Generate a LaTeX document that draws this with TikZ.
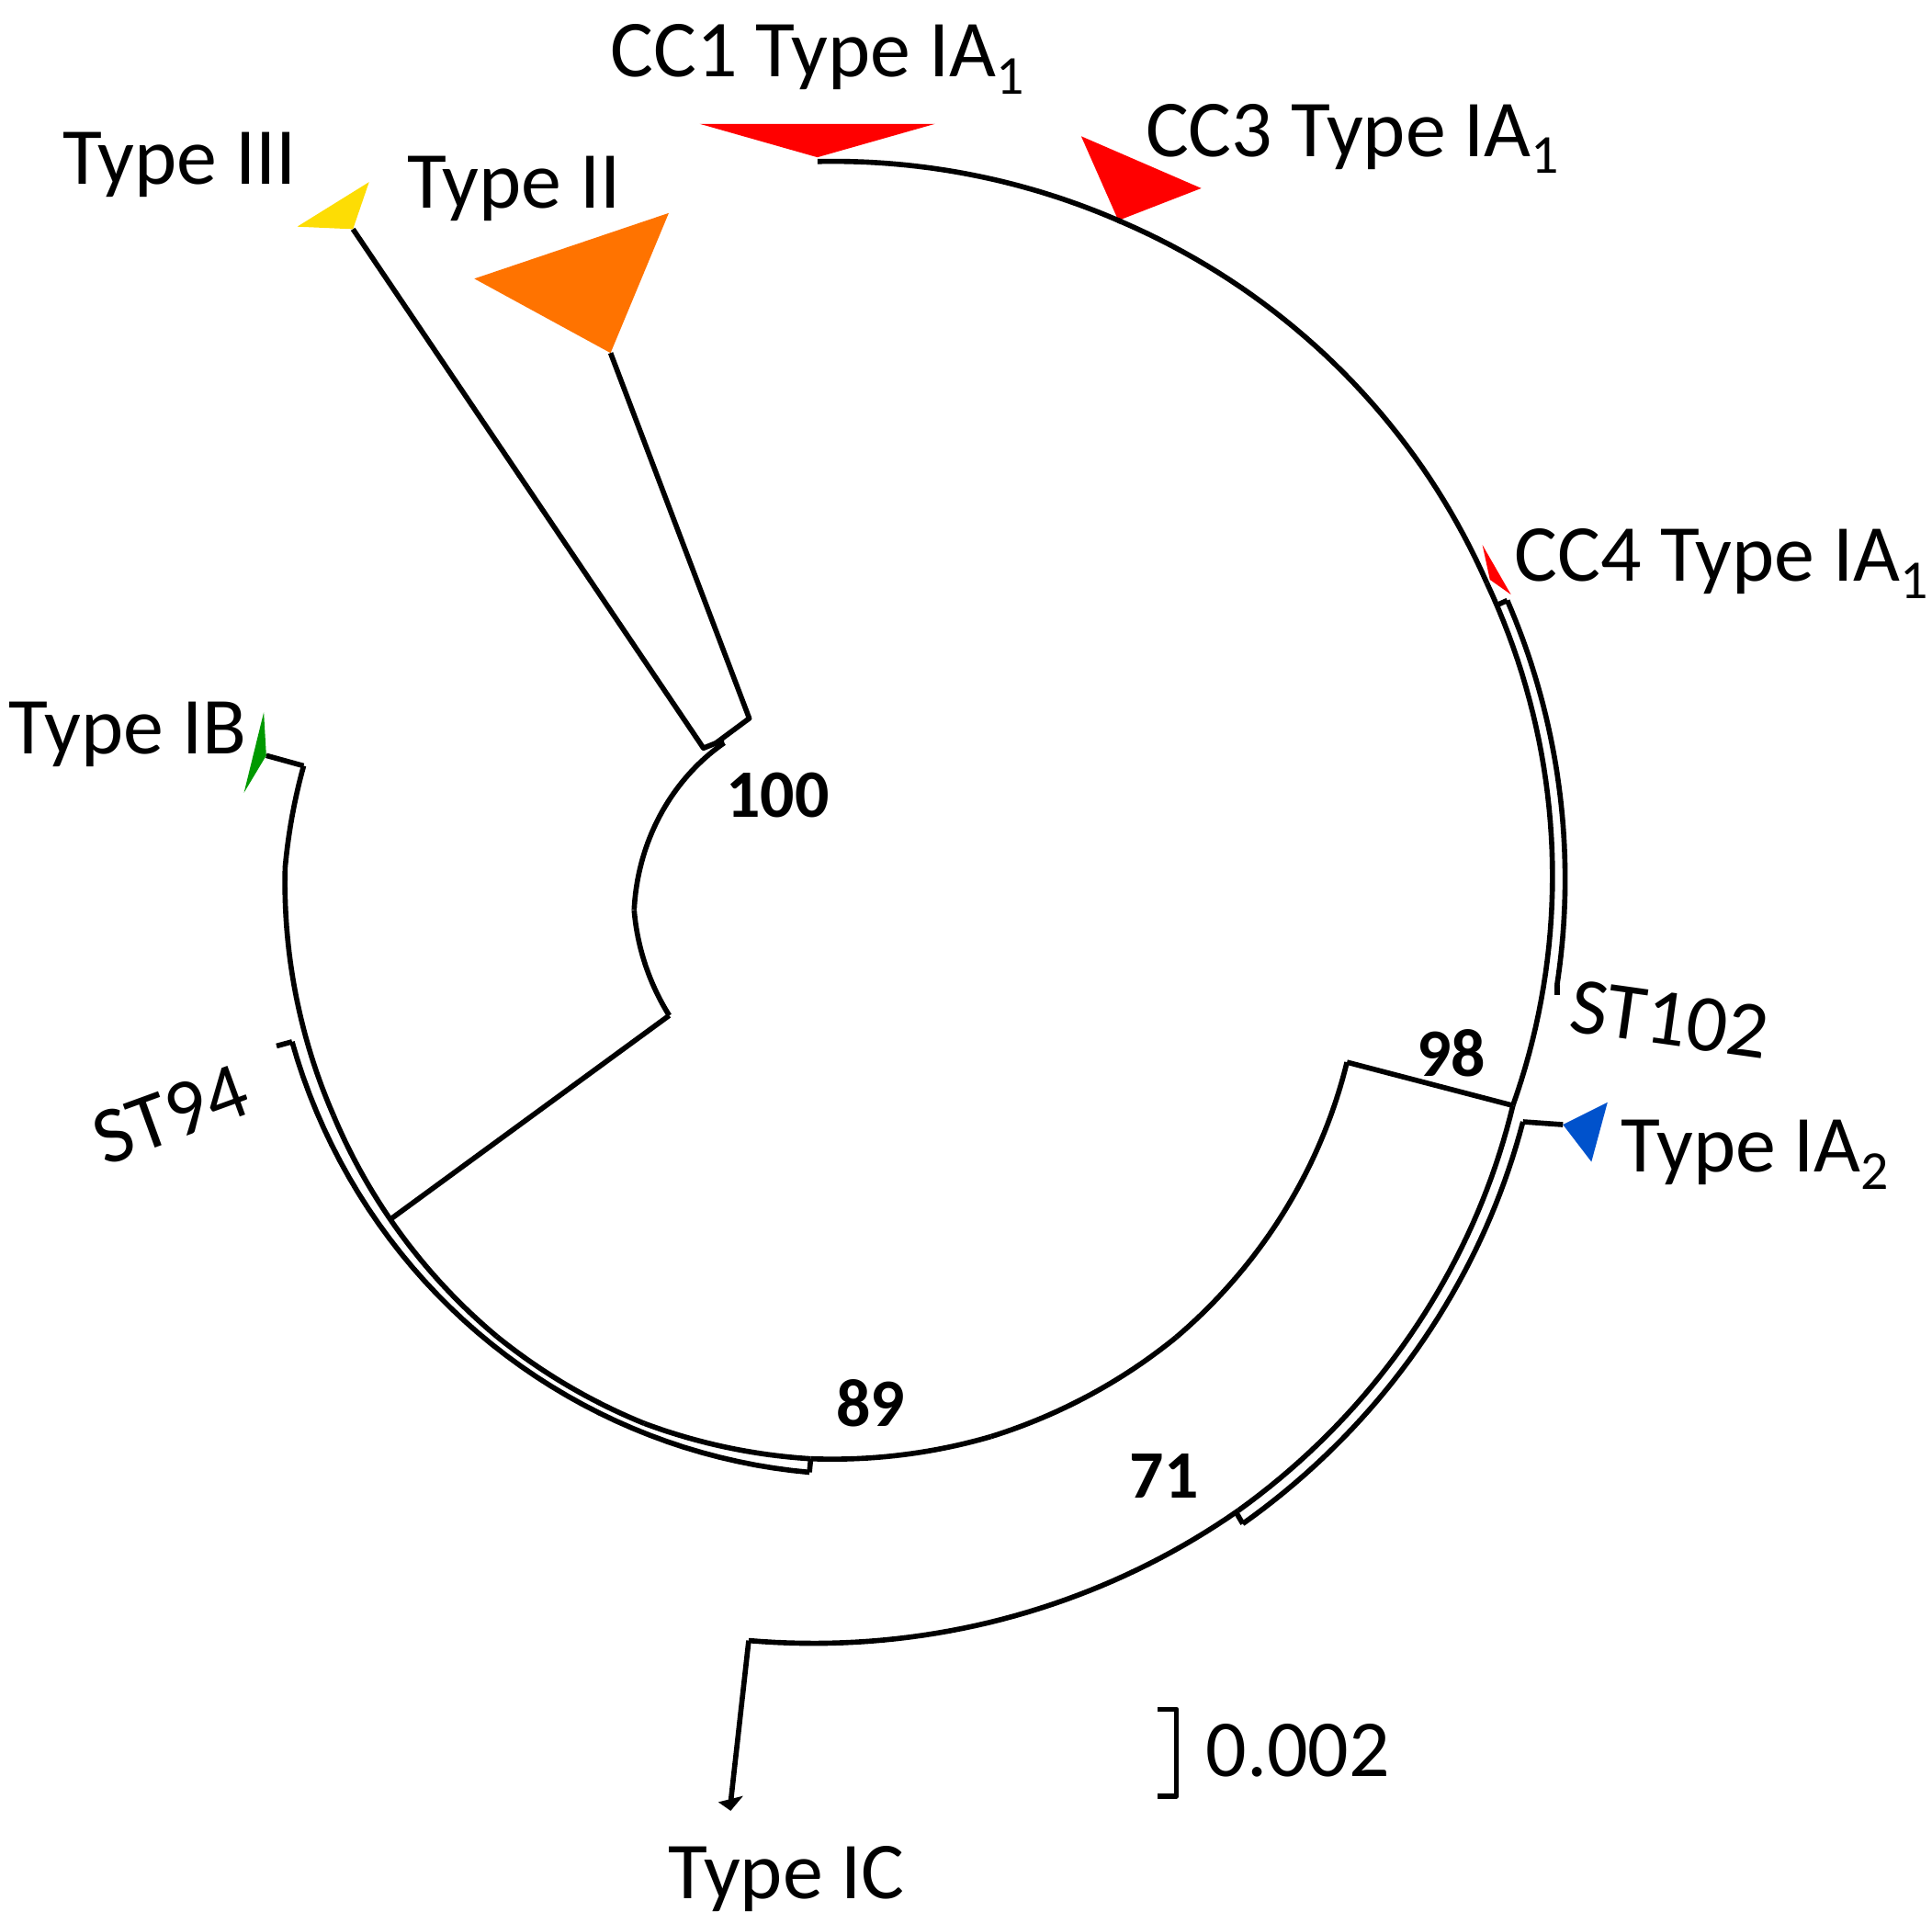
\documentclass[tikz,border=0pt]{standalone}
\usepackage{fontspec}
\setmainfont{Carlito}
\newcommand\myarc[4]{\draw[shift={(700,715)}] plot[domain=#1:#3,samples=40] ({\x}:{#2+(#4-#2)*(\x-#1)/(#3-#1)});}
\newcommand\sbs[1]{\raisebox{-0.45ex}{\fontsize{17}{18}\selectfont #1}}
\begin{document}
\begin{tikzpicture}[x=0.01348cm,y=-0.01348cm,line width=1.6pt,line join=round,
  lab/.style={font=\fontsize{25}{28}\selectfont,inner sep=0pt},
  num/.style={font=\bfseries\fontsize{21}{24}\selectfont,inner sep=0pt}]
\useasboundingbox (0,0) rectangle (1560,1552);
\coordinate (C) at (700,715);
% collapsed clades
\fill[red] (565,100) -- (755,100) -- (660,127) -- cycle;
\fill[red] (873,110) -- (970,152) -- (903,178) -- cycle;
\fill[red] (1197,440) -- (1220,480) -- (1203,468) -- cycle;
\fill[orange!90!red] (383,225) -- (540,172) -- (493,285) -- cycle;
\fill[yellow!80!orange] (240,183) -- (298,147) -- (285,185) -- cycle;
\fill[green!60!black] (213,575) -- (197,640) -- (215,610) -- cycle;
\fill[blue!60!cyan!80!black] (1262,908) -- (1298,890) -- (1285,938) -- cycle;
\fill[black] (580,1455) -- (600,1450) -- (590,1462) -- cycle;
% root
\myarc{146.7}{191}{174}{189}
\myarc{174}{189}{225}{163}
\coordinate (root) at ([shift={(225:163)}]C);
\coordinate (n100) at (578,600);
\draw (root) -- (n100);
\draw (n100) -- ++(-10,4) coordinate (b3) -- (285,185);
\draw (n100) -- ++(27,-20) coordinate (b2) -- (493,285);
\draw ([shift={(146.7:191)}]C) -- ([shift={(145:469)}]C);
% node 89 clade
\myarc{20.2}{413}{55.6}{442}
\myarc{55.6}{442}{77.3}{456}
\myarc{77.3}{456}{95.6}{465}
\myarc{95.6}{465}{112.5}{470}
\myarc{112.5}{470}{129.4}{471}
\myarc{129.4}{471}{156.7}{469}
\myarc{156.7}{469}{181.8}{470}
\myarc{181.8}{470}{192}{465}
\draw ([shift={(192:465)}]C) -- (215,610);
\myarc{95.6}{476}{164.8}{481}
\draw ([shift={(95.6:465)}]C) -- ([shift={(95.6:476)}]C);
\draw ([shift={(164.8:481)}]C) -- ([shift={(164.8:494)}]C);
% node 98
\draw ([shift={(18.8:551)}]C) -- ([shift={(20.2:413)}]C);
\myarc{18.8}{551}{-26}{557}
\myarc{-26}{557}{-69}{574}
\myarc{-69}{574}{-93.9}{586}
\draw ([shift={(-69:574)}]C) -- (903,178);
\myarc{-24}{566}{8.2}{563}
\draw ([shift={(-24:556)}]C) -- ([shift={(-24:566)}]C);
\draw ([shift={(8.2:563)}]C) -- ++(0,8);
% type IC / IA2
\myarc{18.8}{551}{59.3}{587}
\myarc{59.3}{587}{98.9}{617}
\draw ([shift={(98.9:617)}]C) -- (590,1455);
\myarc{19.8}{563}{59.5}{598}
\draw ([shift={(59.5:587)}]C) -- ([shift={(59.5:598)}]C);
\draw ([shift={(19.8:563)}]C) -- (1262,908);
% scale
\draw (935,1380) -- (950,1380) -- (950,1450) -- (935,1450);
% labels
\node[lab] (l1) at (660,48) {CC1 Type IA\sbs{1}};
\node[lab] (l3) at (1092,112) {CC3 Type IA\sbs{1}};
\node[lab] (l4) at (1390,455) {CC4 Type IA\sbs{1}};
\node[lab] (l3b) at (145,133) {Type III};
\node[lab] (l2) at (415,152) {Type II};
\node[lab] (lb) at (103,593) {Type IB};
\node[lab,rotate=20] (l94) at (138,900) {ST94};
\node[lab,rotate=-8] (l102) at (1348,823) {ST102};
\node[lab] (la2) at (1417,932) {Type IA\sbs{2}};
\node[lab] (lc) at (635,1517) {Type IC};
\node[lab] (sc) at (1048,1413) {0.002};
\node[num] (t100) at (628,642) {100};
\node[num] (t98) at (1172,850) {98};
\node[num] (t89) at (703,1133) {89};
\node[num] (t71) at (940,1192) {71};
\end{tikzpicture}
\end{document}
